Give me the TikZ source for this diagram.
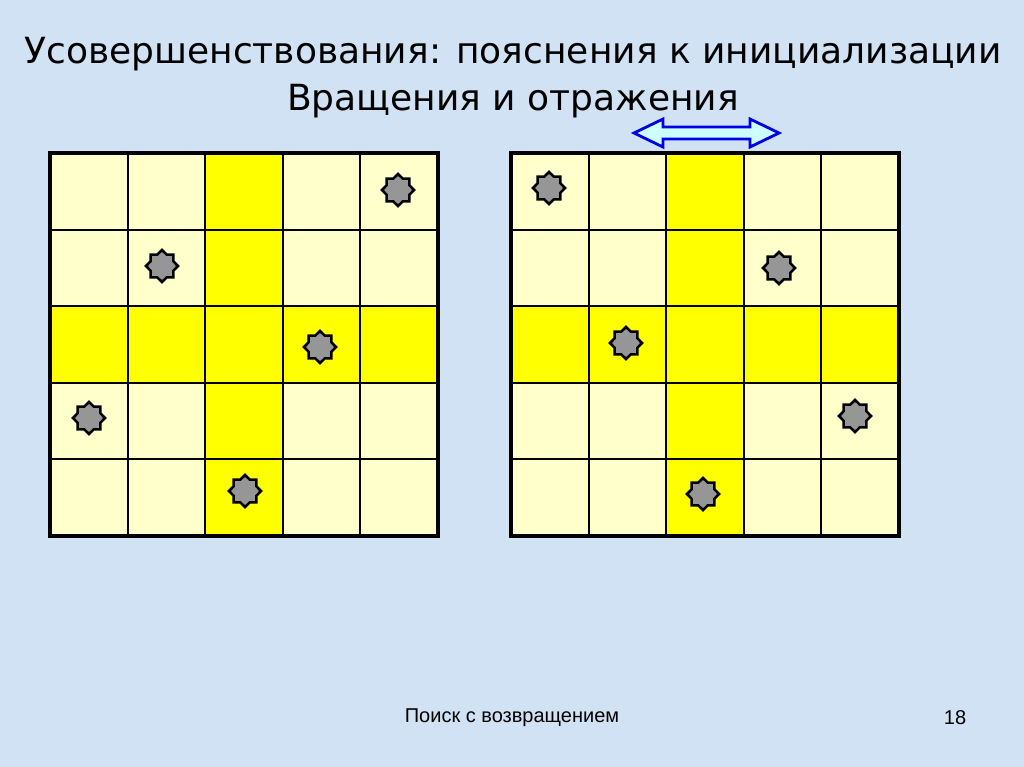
\documentclass[tikz,border=0pt]{standalone}
\usepackage{fontspec}
\setmainfont{Liberation Sans}
\newfontfamily\titlefont{DejaVu Sans}
\usetikzlibrary{shapes.geometric}
\definecolor{bgblue}{RGB}{208,226,243}
\definecolor{paleyel}{RGB}{255,255,204}
\definecolor{yel}{RGB}{255,255,0}
\definecolor{stargray}{RGB}{150,150,150}
\definecolor{arrowfill}{RGB}{204,255,255}
\definecolor{arrowline}{RGB}{0,0,230}
\tikzset{
  cellpale/.style={fill=paleyel,draw=black,line width=1.4pt},
  cellyel/.style={fill=yel,draw=black,line width=1.4pt},
  gridframe/.style={draw=black,line width=2.4pt},
  mstar/.style={star,star points=8,star point ratio=1.3,minimum size=24pt,inner sep=0pt,fill=stargray,draw=black,line width=1.9pt},
  titletext/.style={font=\titlefont\fontsize{27}{32}\selectfont,inner sep=0pt},
  foottext/.style={font=\fontsize{15}{18}\selectfont,inner sep=0pt}
}
\begin{document}
\begin{tikzpicture}[x=0.75pt,y=-0.75pt]
\useasboundingbox (0,0) rectangle (1024,767);
\fill[bgblue] (0,0) rectangle (1024,767);
% title
\node[titletext] (t1) at (513,54) {Усовершенствования: пояснения к инициализации};
\node[titletext] (t2) at (513,101) {Вращения и отражения};
% grids
\foreach \gx/\gn in {50/L,511/R}{
  \foreach \r in {0,...,4}{
    \foreach \c in {0,...,4}{
      \pgfmathsetmacro{\xa}{\gx+\c*77.6}
      \pgfmathsetmacro{\ya}{153+\r*76.6}
      \pgfmathtruncatemacro{\isy}{(\r==2)||(\c==2)}
      \ifnum\isy=1
        \draw[cellyel] (\xa,\ya) rectangle ++(77.6,76.6);
      \else
        \draw[cellpale] (\xa,\ya) rectangle ++(77.6,76.6);
      \fi
    }
  }
  \draw[gridframe] (\gx,153) rectangle ++(388,383);
}
% stars left
\node[mstar] (sL1) at (398,190) {};
\node[mstar] (sL2) at (162,266) {};
\node[mstar] (sL3) at (320,347) {};
\node[mstar] (sL4) at (89,418) {};
\node[mstar] (sL5) at (245,491) {};
% stars right
\node[mstar] (sR1) at (549,188) {};
\node[mstar] (sR2) at (779,268) {};
\node[mstar] (sR3) at (626,343) {};
\node[mstar] (sR4) at (855,416) {};
\node[mstar] (sR5) at (703,494) {};
% double arrow
\draw[fill=arrowfill,draw=arrowline,line width=2.1pt,line join=miter]
  (634,133) -- (663,119) -- (663,127) -- (750,127) -- (750,119) -- (779,133)
  -- (750,147) -- (750,139) -- (663,139) -- (663,147) -- cycle;
% footer
\node[foottext] (f1) at (512,718) {Поиск с возвращением};
\node[foottext] (f2) at (955,718) {18};
\end{tikzpicture}
\end{document}
